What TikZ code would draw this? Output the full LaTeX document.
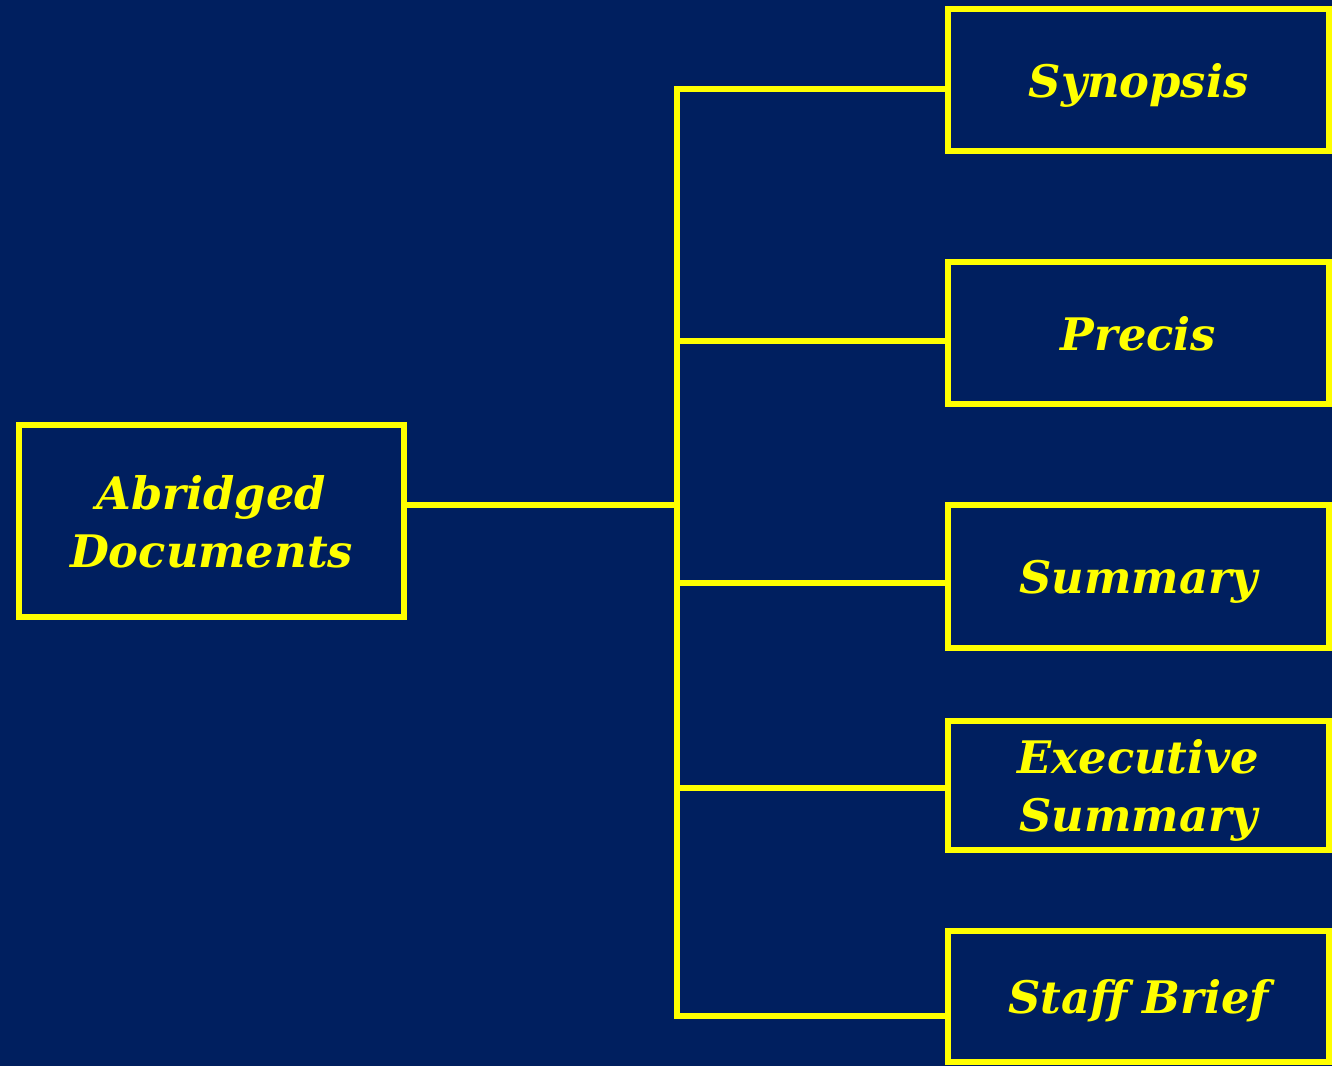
\documentclass[tikz,border=0pt]{standalone}
\usepackage{fontspec}
\setmainfont{DejaVu Serif}
\definecolor{navy}{RGB}{0,31,95}
\definecolor{yel}{RGB}{255,255,0}
\begin{document}
\begin{tikzpicture}[x=0.02cm,y=-0.02cm]

	\tikzstyle{box} = [draw=yel, line width=0.12cm, text=yel, align=center, inner sep=0pt,
		text depth=0pt, font=\fontsize{25.5}{33}\selectfont\bfseries\itshape];
	\tikzstyle{link} = [draw=yel, line width=0.12cm, line join=miter];

	\fill[navy] (0,0) rectangle (1332,1066);
	\useasboundingbox (0,0) rectangle (1332,1066);

	\node[box, minimum width=7.7cm, minimum height=3.84cm] (root) at (211.5,521) {Abridged\\Documents};
	\node[box, minimum width=7.62cm, minimum height=2.84cm] (syn) at (1138.5,80) {Synopsis};
	\node[box, minimum width=7.62cm, minimum height=2.84cm] (pre) at (1138.5,333) {Precis};
	\node[box, minimum width=7.62cm, minimum height=2.86cm] (sum) at (1138.5,576.5) {Summary};
	\node[box, minimum width=7.62cm, minimum height=2.58cm] (exe) at (1138.5,785.5) {Executive\\Summary};
	\node[box, minimum width=7.62cm, minimum height=2.62cm] (stf) at (1138.5,996.5) {Staff Brief};

	% joints on the spine
	\coordinate (j0) at (677,505);
	\coordinate (j1) at (677,89);
	\coordinate (j2) at (677,341);
	\coordinate (j3) at (677,583);
	\coordinate (j4) at (677,788);
	\coordinate (j5) at (677,1016);

	\draw[link] (root.east |- j0) -- (j0);
	\draw[link] (syn.west |- j1) -- (j1) -- (j5) -- (stf.west |- j5);
	\draw[link] (j2) -- (pre.west |- j2);
	\draw[link] (j3) -- (sum.west |- j3);
	\draw[link] (j4) -- (exe.west |- j4);

\end{tikzpicture}
\end{document}
